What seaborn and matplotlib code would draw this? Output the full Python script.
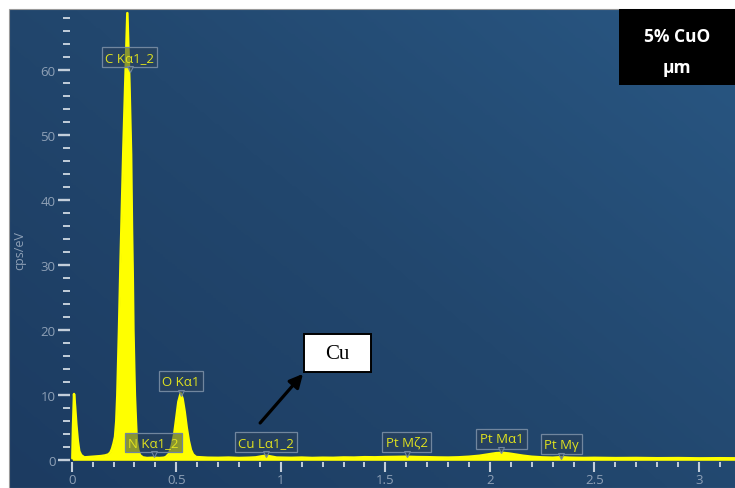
import numpy as np
import matplotlib
matplotlib.use("Agg")
import matplotlib.pyplot as plt
import matplotlib.transforms as mtransforms
from matplotlib.colors import LinearSegmentedColormap
from matplotlib.patches import Rectangle
import seaborn as sns

# EDS spectrum: energy (keV) and intensity (cps/eV)
energy_kev = [
    0.003, 0.006, 0.011, 0.016, 0.022, 0.029, 0.036, 0.045, 0.060, 0.080,
    0.100, 0.120, 0.140, 0.160, 0.175, 0.185, 0.193, 0.200, 0.207, 0.213,
    0.218, 0.226, 0.233, 0.240, 0.247, 0.256, 0.266, 0.276, 0.284, 0.288,
    0.292, 0.295, 0.299, 0.302, 0.307, 0.311, 0.318, 0.326, 0.340, 0.360,
    0.390, 0.420, 0.440, 0.450, 0.465, 0.478, 0.490, 0.500, 0.510, 0.521,
    0.530, 0.540, 0.550, 0.560, 0.570, 0.580, 0.595, 0.650, 0.700, 0.750,
    0.800, 0.850, 0.880, 0.910, 0.930, 0.950, 0.980, 1.050, 1.100, 1.150,
    1.200, 1.250, 1.300, 1.350, 1.400, 1.450, 1.500, 1.550, 1.600, 1.650,
    1.700, 1.750, 1.800, 1.850, 1.900, 1.950, 2.000, 2.030, 2.060, 2.090,
    2.120, 2.160, 2.200, 2.250, 2.300, 2.340, 2.380, 2.450, 2.500, 2.600,
    2.700, 2.800, 2.900, 3.000, 3.100, 3.200,
]
counts = [
    0.3, 5.0, 10.2, 8.3, 5.5, 3.0, 1.4, 0.8, 0.45, 0.5,
    0.55, 0.6, 0.65, 0.75, 0.9, 1.2, 1.8, 2.6, 3.6, 6.0,
    10.0, 20.0, 30.0, 39.0, 48.0, 58.0, 68.8, 58.0, 47.0, 36.0,
    28.0, 20.0, 14.0, 10.0, 6.0, 3.0, 1.6, 0.8, 0.45, 0.35,
    0.4, 0.35, 0.4, 0.5, 1.0, 2.2, 4.0, 6.5, 9.0, 10.3,
    9.5, 7.5, 5.0, 3.0, 1.6, 0.9, 0.5, 0.4, 0.38, 0.42,
    0.36, 0.4, 0.45, 0.62, 0.72, 0.6, 0.42, 0.38, 0.42, 0.36,
    0.4, 0.38, 0.44, 0.42, 0.48, 0.46, 0.5, 0.52, 0.55, 0.5,
    0.48, 0.44, 0.42, 0.46, 0.55, 0.7, 0.95, 1.1, 1.15, 1.05,
    0.9, 0.7, 0.55, 0.45, 0.4, 0.48, 0.4, 0.36, 0.38, 0.34,
    0.36, 0.32, 0.34, 0.3, 0.32, 0.3,
]

# Identified X-ray lines and where their tags sit
line_names = ["C Kα1_2", "N Kα1_2", "O Kα1", "Cu Lα1_2", "Pt Mζ2", "Pt Mα1", "Pt Mγ"]
line_energies = [0.277, 0.392, 0.521, 0.930, 1.602, 2.055, 2.342]
tag_heights = [62.0, 2.75, 12.2, 2.8, 2.8, 3.3, 2.5]

x_ticks = [0, 0.5, 1, 1.5, 2, 2.5, 3]
x_tick_labels = ["0", "0.5", "1", "1.5", "2", "2.5", "3"]
y_ticks = [0, 10, 20, 30, 40, 50, 60]
y_label = "cps/eV"

sample_lines = ["5% CuO", "µm"]
callout_text = "Cu"

sns.set_theme(style="dark")
plt.rcParams["font.family"] = ["Open Sans", "DejaVu Sans"]

W, H = 735, 489
fig = plt.figure(figsize=(W / 100, H / 100), dpi=100)
fig.patch.set_facecolor("white")
ax_left, ax_top = 9, 10.5
ax = fig.add_axes([ax_left / W, 0, 1 - ax_left / W, (H - ax_top) / H])

# diagonal blue gradient behind the spectrum
gx, gy = np.meshgrid(np.linspace(0, 1, 300), np.linspace(0, 1, 200))
grad = 0.55 * gx + 0.45 * gy
cmap = LinearSegmentedColormap.from_list("panel", ["#1c3b61", "#22476e", "#295783"])
ax.imshow(grad, extent=[0, 1, 0, 1], transform=ax.transAxes, origin="lower",
          cmap=cmap, aspect="auto", zorder=0, interpolation="bilinear")

# spectrum
yellow = "#ffff00"
ax.fill_between(energy_kev, counts, 0, color=yellow, lw=0, zorder=3)
sns.lineplot(x=energy_kev, y=counts, ax=ax, color=yellow, lw=1.8, zorder=3)

ax.set_xlim(-0.300, 3.172)
ax.set_ylim(-4.26, 69.35)

# axes: invisible spines carrying ticks at the data origin
for s in ax.spines.values():
    s.set_visible(False)
ax.spines["left"].set_position(("data", -0.008))
ax.spines["bottom"].set_position(("data", -0.3))
ax.grid(False)

ax.set_xticks(x_ticks)
ax.set_xticklabels(x_tick_labels)
ax.set_xticks([round(0.1 * i, 1) for i in range(1, 32) if i % 5], minor=True)
ax.set_yticks(y_ticks)
ax.set_yticklabels([str(v) for v in y_ticks])
ax.set_yticks([v for v in range(2, 69, 2) if v % 10], minor=True)

tick_c, lab_c = "#c3ceda", "#8ea0b6"
ax.tick_params(axis="both", which="both", bottom=True, left=True, direction="out",
               color=tick_c, labelcolor=lab_c, labelsize=9.5)
ax.tick_params(axis="y", which="major", length=9, width=1.7, pad=1.5)
ax.tick_params(axis="y", which="minor", length=4.8, width=1.4)
ax.tick_params(axis="x", which="major", length=7, width=1.5, pad=1.0)
ax.tick_params(axis="x", which="minor", length=3.6, width=1.4)
ax.set_xlabel("")
ax.set_ylabel("")
fig.text(20 / W, 1 - 250 / H, y_label, rotation=90, ha="center", va="center",
         color=lab_c, fontsize=9)

# line tags with a small pointer under each box
tag_face = (0.17, 0.25, 0.35, 0.55)
for name, e, h in zip(line_names, line_energies, tag_heights):
    ax.text(e, h, name, ha="center", va="center", fontsize=9.5, color="#e0e21e",
            zorder=6, bbox=dict(boxstyle="square,pad=0.25", fc=tag_face,
                                ec="#71869e", lw=0.9))
    tr = ax.transData + mtransforms.ScaledTranslation(0, -0.115, fig.dpi_scale_trans)
    ax.plot([e], [h], marker="v", ms=5, mfc=tag_face, mec="#71869e", mew=0.8,
            transform=tr, zorder=6, clip_on=False)

# callout box and arrow
ax.add_patch(Rectangle((1.111, 13.58), 0.320, 5.85, fc="white", ec="black",
                       lw=1.4, zorder=7))
ax.text(1.271, 16.4, callout_text, ha="center", va="center", fontsize=15,
        family="Liberation Serif", color="black", zorder=8)
ax.annotate("", xy=(1.106, 13.3), xytext=(0.901, 5.74),
            arrowprops=dict(arrowstyle="-|>", color="black", lw=2.3,
                            mutation_scale=20, shrinkA=0, shrinkB=0), zorder=8)

# sample tag in the upper right
fig.patches.append(Rectangle((619 / W, 1 - 86 / H), 116 / W, 76 / H,
                             transform=fig.transFigure, fc="black", ec="none",
                             zorder=10))
for txt, py in zip(sample_lines, [37, 68]):
    fig.text(677 / W, 1 - py / H, txt, ha="center", va="center", color="white",
             fontsize=12.5, fontweight="bold", zorder=11)

# thin frame around the panel
fig.patches.append(Rectangle((ax_left / W - 0.5 / W, 0), 1, (H - ax_top + 0.5) / H,
                             transform=fig.transFigure, fc="none", ec="#9a9a9a",
                             lw=0.8, zorder=9))

fig.savefig("out.png", dpi=100)
